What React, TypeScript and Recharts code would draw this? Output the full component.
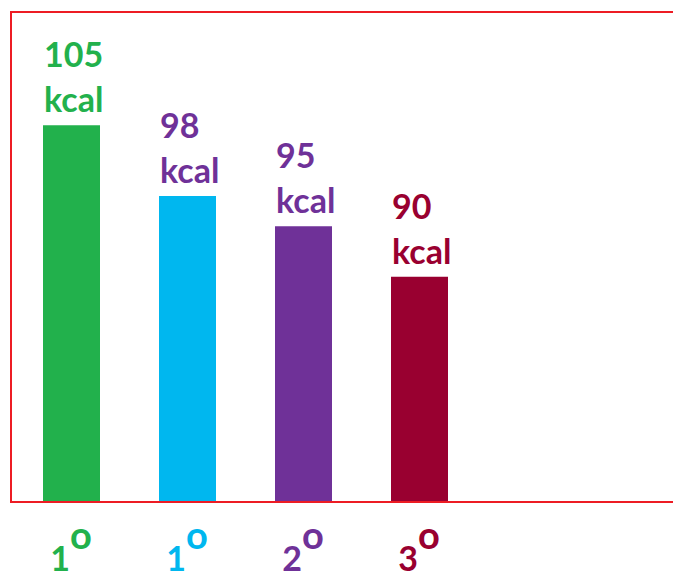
import { BarChart, Bar, XAxis, YAxis, Cell, LabelList } from "recharts"

const categories = ["1", "1", "2", "3"]
const kcal = [105, 98, 95, 90]
const barColors = ["#22B14C", "#00B7EF", "#6F3198", "#990030"]
const labelColors = ["#22B14C", "#6F3198", "#6F3198", "#990030"]
const tickColors = ["#22B14C", "#00B7EF", "#6F3198", "#990030"]

const data = categories.map((c, i) => ({ name: `${c}-${i}`, grade: c, kcal: kcal[i] }))

const font = "Lato, 'Open Sans', sans-serif"

function Tick(props: any) {
  const { x, y, index } = props
  const color = tickColors[index]
  return (
    <text
      x={x}
      y={y + 69}
      textAnchor="middle"
      fill={color}
      fontFamily={font}
      fontWeight={700}
      fontSize={34}
    >
      {categories[index]}
      <tspan dy={-22} fontSize={38}>o</tspan>
    </text>
  )
}

function KcalLabel(props: any) {
  const { x, y, index, value } = props
  const color = labelColors[index]
  return (
    <g fill={color} fontFamily={font} fontWeight={700} fontSize={34}>
      <text x={x + 1} y={y - 58}>{value}</text>
      <text x={x + 1} y={y - 13}>kcal</text>
    </g>
  )
}

export default function App() {
  return (
    <div style={{ position: "fixed", left: 0, top: 0, width: 673, height: 578, background: "#fff", overflow: "hidden" }}>
      <BarChart
        width={673}
        height={578}
        data={data}
        margin={{ top: 12, right: 196, left: 13, bottom: 6 }}
      >
        <XAxis
          dataKey="name"
          axisLine={false}
          tickLine={false}
          tickSize={0}
          tickMargin={0}
          height={70}
          interval={0}
          tick={<Tick />}
        />
        <YAxis hide domain={[67.7, 116.2]} allowDataOverflow />
        <Bar dataKey="kcal" barSize={57} isAnimationActive={false}>
          {data.map((_, i) => (
            <Cell key={i} fill={barColors[i]} />
          ))}
          <LabelList dataKey="kcal" content={<KcalLabel />} />
        </Bar>
      </BarChart>
      <div
        style={{
          position: "absolute",
          left: 10,
          top: 11,
          width: 700,
          height: 488,
          border: "2px solid #ED1C24",
          borderRight: "none",
          pointerEvents: "none",
        }}
      />
    </div>
  )
}
